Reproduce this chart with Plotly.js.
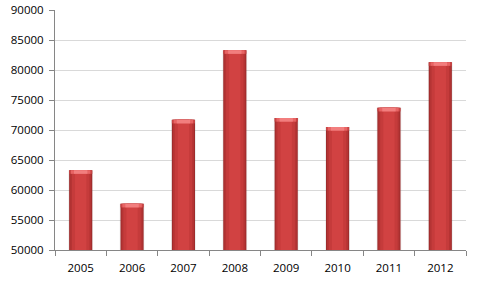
<!DOCTYPE html>
<html>
<head>
<meta charset="utf-8">
<script src="https://cdn.plot.ly/plotly-3.0.1.min.js"></script>
<style>html,body{margin:0;padding:0;background:#fff;}#chart{width:477px;height:288px;}</style>
</head>
<body>
<div id="chart"></div>
<script>
const years = ['2005', '2006', '2007', '2008', '2009', '2010', '2011', '2012'];
const values = [63300, 57700, 71700, 83300, 72000, 70500, 73700, 81300];
const yTicks = [50000, 55000, 60000, 65000, 70000, 75000, 80000, 85000, 90000];

const baseline = 50000;
const bevel = 600;

function layer(width, color, yvals, base) {
  return {
    type: 'bar', x: years, y: yvals, base: base, width: width,
    marker: {color: color, line: {width: 0}},
    hoverinfo: 'skip', showlegend: false
  };
}

const baseArr = years.map(() => baseline);
const heights = values.map(v => v - baseline);
const bevelBase = values.map(v => v - bevel);
const bevelH = values.map(() => bevel);

const traces = [
  // soft shadow
  layer(0.48, 'rgba(120,120,120,0.15)', heights, baseArr),
  layer(0.45, '#9e2c2c', heights, baseArr),
  layer(0.41, '#b53434', heights, baseArr),
  layer(0.34, '#c53b3b', heights, baseArr),
  layer(0.22, '#d14242', heights, baseArr),
  // top bevel highlight
  layer(0.45, '#c84444', bevelH, bevelBase),
  layer(0.38, '#e86464', bevelH, bevelBase),
  layer(0.26, '#f27e7e', bevelH, bevelBase)
];

const layout = {
  width: 477, height: 288,
  margin: {l: 55, r: 11, t: 10, b: 38, pad: 0},
  paper_bgcolor: '#ffffff', plot_bgcolor: '#ffffff',
  barmode: 'overlay',
  showlegend: false,
  hovermode: false,
  font: {family: '"Open Sans", "DejaVu Sans", sans-serif', size: 11.5, color: '#000000'},
  xaxis: {
    type: 'category', categoryorder: 'array', categoryarray: years,
    showline: true, linecolor: '#868686', linewidth: 1,
    ticks: 'outside', ticklen: 5, tickcolor: '#868686', tickson: 'boundaries',
    showgrid: false, zeroline: false, fixedrange: true,
    tickfont: {size: 11.5, color: '#000'}, ticklabelstandoff: 7
  },
  yaxis: {
    range: [50000, 90000], tickvals: yTicks, ticktext: yTicks.map(String),
    showline: true, linecolor: '#868686', linewidth: 1,
    ticks: 'outside', ticklen: 5, tickcolor: '#868686',
    showgrid: true, gridcolor: '#d9d9d9', gridwidth: 1,
    zeroline: false, fixedrange: true,
    tickfont: {size: 11.5, color: '#000'}, ticklabelstandoff: 3
  }
};

Plotly.newPlot('chart', traces, layout, {displayModeBar: false, staticPlot: true});
</script>
</body>
</html>
